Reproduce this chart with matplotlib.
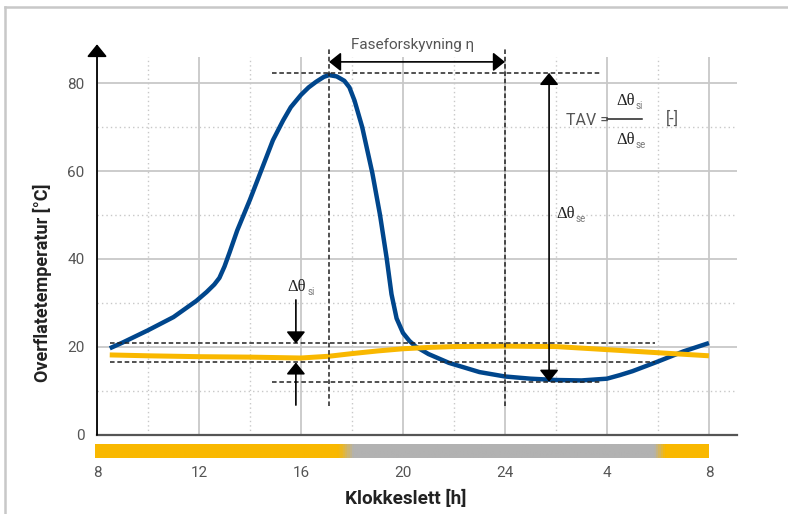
import numpy as np
import matplotlib
matplotlib.use("Agg")
import matplotlib.pyplot as plt
from matplotlib.colors import LinearSegmentedColormap
from matplotlib.lines import Line2D

plt.rcParams['font.family'] = ['Roboto', 'DejaVu Sans']

# ---------------- data ----------------
blue_hours = [8.5, 9, 10, 11, 11.9, 12.3, 12.6, 12.8, 13.0, 13.2, 13.5, 14, 14.4, 14.9, 15.3, 15.6,
              16.0, 16.3, 16.6, 16.9, 17.1, 17.4, 17.7, 17.9, 18.1, 18.4, 18.8, 19.1, 19.36, 19.55,
              19.75, 20.0, 20.25, 20.5, 21.0, 21.8, 23, 24, 25, 26, 27, 28, 28.5, 29, 30, 31, 32]
blue_temp = [19.7, 21.0, 23.8, 26.8, 30.5, 32.5, 34.2, 35.7, 38.3, 41.5, 46.5, 53.5, 59.5, 67, 71.5, 74.5,
             77.3, 79.0, 80.3, 81.4, 81.8, 81.5, 80.5, 79.0, 76, 70, 59.5, 50, 40.2, 32,
             26.5, 23.2, 21.4, 20.1, 18.4, 16.4, 14.3, 13.3, 12.8, 12.5, 12.4, 12.8, 13.6, 14.5, 16.7, 19.0, 20.9]

yellow_hours = [8.5, 10, 12, 14, 16, 17.1, 18, 19, 20, 21, 22, 24, 26, 28, 30, 32]
yellow_temp = [18.2, 18.0, 17.8, 17.7, 17.5, 17.9, 18.5, 19.1, 19.6, 19.9, 20.1, 20.2, 20.1, 19.4, 18.7, 18.0]

x_tick_pos = [8, 12, 16, 20, 24, 28, 32]
x_tick_labels = ['8', '12', '16', '20', '24', '4', '8']
y_ticks = [0, 20, 40, 60, 80]

# day/night bar stops (hour, colour)
bar_stops = [7.92, 17.45, 18.05, 29.9, 30.35, 32.0]
bar_cols = ['#F9B800', '#F9B800', '#B2B2B2', '#B2B2B2', '#F9B800', '#F9B800']

# annotation values
peak_hour, peak_temp = 17.1, 82.3
shift_end_hour = 24.0
min_temp = 12.1
si_upper, si_lower = 20.8, 16.5

BLUE = '#00468C'
YELLOW = '#F9B800'
GRID = '#C8C8C8'
TXT = '#555555'
SERIF = ['Liberation Serif', 'DejaVu Serif']

fig = plt.figure(figsize=(7.88, 5.14), dpi=100)
ax = fig.add_axes([97 / 788, 79 / 514, 640 / 788, 378.4 / 514])
ax.set_xlim(8, 33.1)
ax.set_ylim(0, 86)

# grid
ax.set_xticks(x_tick_pos)
ax.set_xticklabels(x_tick_labels)
ax.set_xticks([10, 14, 18, 22, 26, 30], minor=True)
ax.set_yticks(y_ticks)
ax.set_yticks([10, 30, 50, 70], minor=True)
ax.grid(True, which='major', color=GRID, lw=1.3, ls='-', zorder=0)
ax.grid(True, which='minor', color=GRID, lw=1.0, ls=(0, (1, 2.2)), zorder=0)
ax.set_axisbelow(True)
for s in ['top', 'right', 'left']:
    ax.spines[s].set_visible(False)
ax.spines['bottom'].set_color('#555555')
ax.spines['bottom'].set_linewidth(1.6)
ax.tick_params(which='both', length=0)
ax.tick_params(axis='y', pad=9, labelsize=11, labelcolor=TXT)
ax.tick_params(axis='x', pad=22, labelsize=11, labelcolor=TXT)

# y-axis arrow
ax.annotate('', xy=(8, 88.8), xytext=(8, 0), xycoords='data',
            arrowprops=dict(arrowstyle='-|>,head_length=0.42,head_width=0.34', mutation_scale=18,
                            color='black', lw=1.3, shrinkA=0, shrinkB=0), annotation_clip=False)

# day/night bar
cmap = LinearSegmentedColormap.from_list(
    'daynight', [((h - bar_stops[0]) / (bar_stops[-1] - bar_stops[0]), c) for h, c in zip(bar_stops, bar_cols)])
grad = np.linspace(0, 1, 600).reshape(1, -1)
ax.imshow(grad, cmap=cmap, aspect='auto', extent=(bar_stops[0], bar_stops[-1], -5.2, -2.05),
          clip_on=False, zorder=1)
ax.set_ylim(0, 86)
ax.set_xlim(8, 33.1)

# curves
ax.plot(blue_hours, blue_temp, color=BLUE, lw=3.2, solid_capstyle='butt', solid_joinstyle='round',
        zorder=4, clip_on=False)
ax.plot(yellow_hours, yellow_temp, color=YELLOW, lw=3.6, solid_capstyle='butt', solid_joinstyle='round',
        zorder=5, clip_on=False)

dash = dict(color='#222222', lw=1.1, ls=(0, (3, 1.8)), zorder=6, clip_on=False)
# phase shift verticals
ax.plot([peak_hour, peak_hour], [6.6, 88.2], **dash)
ax.plot([shift_end_hour, shift_end_hour], [6.6, 88.2], **dash)
# peak and min horizontals
ax.plot([14.86, 27.8], [peak_temp, peak_temp], **dash)
ax.plot([14.86, 27.8], [min_temp, min_temp], **dash)
# si horizontals
ax.plot([8.5, 29.9], [si_upper, si_upper], **dash)
ax.plot([8.5, 29.9], [si_lower, si_lower], **dash)

arr1 = dict(arrowstyle='-|>,head_length=0.4,head_width=0.32', mutation_scale=18,
            color='black', lw=1.2, shrinkA=0, shrinkB=0)
arr2 = dict(arrowstyle='<|-|>,head_length=0.4,head_width=0.32', mutation_scale=18,
            color='black', lw=1.2, shrinkA=0, shrinkB=0)


def delta_label(x, y, sub, ha='left'):
    t = ax.text(x, y, 'Δθ', ha=ha, va='center', fontsize=12, color='#222222', family=SERIF, zorder=8)
    ax.annotate(sub, xy=(1, 0.2), xycoords=t, xytext=(0.8, 0), textcoords='offset points',
                ha='left', va='center', fontsize=7, color='#777777', zorder=8)
    return t


# phase shift arrow
ax.annotate('', xy=(shift_end_hour, 84.8), xytext=(peak_hour, 84.8), arrowprops=arr2,
            annotation_clip=False, zorder=7)
ax.text(20.39, 88.6, 'Faseforskyvning η', ha='center', va='center', fontsize=11, color=TXT)

# delta theta se arrow
ax.annotate('', xy=(25.73, peak_temp), xytext=(25.73, min_temp), arrowprops=arr2,
            annotation_clip=False, zorder=7)
delta_label(26.0, 50.2, 'se')

# delta theta si arrows
ax.annotate('', xy=(15.8, si_upper), xytext=(15.8, 30.7), arrowprops=arr1, annotation_clip=False, zorder=7)
ax.annotate('', xy=(15.8, si_lower), xytext=(15.8, 6.8), arrowprops=arr1, annotation_clip=False, zorder=7)
delta_label(15.47, 33.6, 'si')

# TAV formula
ax.text(26.39, 71.4, 'TAV =', ha='left', va='center', fontsize=11.5, color=TXT)
ax.plot([27.99, 29.37], [71.9, 71.9], color='#222222', lw=1.1, zorder=7)
delta_label(28.35, 75.9, 'si')
delta_label(28.35, 67.0, 'se')
ax.text(30.55, 71.8, '[-]', ha='center', va='center', fontsize=11.5, color=TXT)

# axis labels
fig.text(406 / 788, 1 - 499 / 514, 'Klokkeslett [h]', ha='center', va='center',
         fontsize=13.6, fontweight='bold', color='#222222')
fig.text(42 / 788, 1 - 283 / 514, 'Overflatetemperatur [°C]', ha='center', va='center',
         rotation=90, fontsize=13, fontweight='bold', color='#222222')

# frame
fig.add_artist(Line2D([5 / 788, 1], [1 - 7 / 514, 1 - 7 / 514], color='#C8C8C8', lw=1.8))
fig.add_artist(Line2D([5 / 788, 5 / 788], [0, 1 - 7 / 514], color='#C8C8C8', lw=1.8))

fig.savefig('out.png', dpi=100)
